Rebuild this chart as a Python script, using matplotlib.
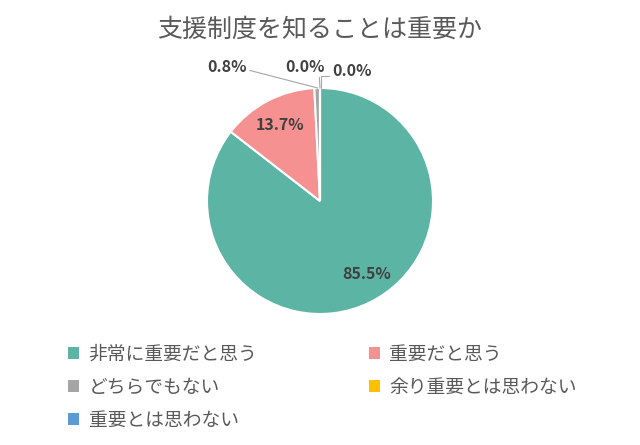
import matplotlib
matplotlib.use("Agg")
import matplotlib.pyplot as plt
from matplotlib.patches import Patch
import numpy as np

plt.rcParams['font.family'] = ['Noto Sans CJK JP', 'DejaVu Sans']

title = "支援制度を知ることは重要か"
categories = ["非常に重要だと思う", "重要だと思う", "どちらでもない", "余り重要とは思わない", "重要とは思わない"]
values = [85.5, 13.7, 0.8, 0.0, 0.0]
labels = ["85.5%", "13.7%", "0.8%", "0.0%", "0.0%"]
colors = ["#5CB4A4", "#F59190", "#A5A5A5", "#FFC000", "#5B9BD5"]

W, H = 640, 445
fig = plt.figure(figsize=(W/100, H/100), dpi=100)
cx, cy, r = 320, 244, 113
ax = fig.add_axes([(cx-r)/W, (cy-r)/H, 2*r/W, 2*r/H])
wedges, _ = ax.pie(values, colors=colors, startangle=90, counterclock=False,
                   wedgeprops=dict(edgecolor='white', linewidth=1.5))
ax.set_xlim(-1, 1); ax.set_ylim(-1, 1)
ax.set_aspect('equal')
ax.axis('off')

lab_col = "#404040"
fs_lab = 11.5
# inside labels for large slices
cum = np.cumsum([0] + values[:-1])
inside_r = {0: 0.72, 1: 0.76}
for i in (0, 1):
    mid = 90 - (cum[i] + values[i] / 2) * 3.6
    rr = inside_r[i]
    x, y = rr*np.cos(np.radians(mid)), rr*np.sin(np.radians(mid))
    if i == 0:
        x += 0.1
    ax.text(x, y, labels[i], ha='center', va='center', fontsize=fs_lab,
            fontweight='bold', color=lab_col)

# outside labels with leader lines
line_kw = dict(arrowstyle='-', color='#A6A6A6', lw=0.8, shrinkA=0, shrinkB=0)
ax.annotate(labels[2], xy=(-0.02, 1.0), xytext=(-0.82, 1.19), ha='center', va='center',
            fontsize=fs_lab, fontweight='bold', color=lab_col,
            arrowprops=dict(**line_kw, relpos=(1.0, 0.3)))
ax.annotate(labels[3], xy=(0.0, 1.0), xytext=(-0.13, 1.19), ha='center', va='center',
            fontsize=fs_lab, fontweight='bold', color=lab_col,
            arrowprops=dict(**line_kw, relpos=(0.85, 0.0)))
ax.annotate(labels[4], xy=(0.01, 1.0), xytext=(0.28, 1.15), ha='center', va='center',
            fontsize=fs_lab, fontweight='bold', color=lab_col,
            arrowprops=dict(arrowstyle='-', color='#A6A6A6', lw=0.8, shrinkA=0, shrinkB=0,
                            relpos=(0.0, 0.2), connectionstyle="angle,angleA=0,angleB=90,rad=0"))

fig.text(0.5, 1 - 30/H, title, ha='center', va='center', fontsize=18, color='#595959')

handles = [Patch(facecolor=c, edgecolor='none') for c in colors]
order = [0, 2, 4, 1, 3]
leg = fig.legend([handles[i] for i in order], [categories[i] for i in order],
                 ncol=2, loc='upper left', bbox_to_anchor=(68/W, 1 - 344/H),
                 frameon=False, fontsize=13.5, labelcolor='#595959',
                 handlelength=0.6, handleheight=0.6, handletextpad=0.5,
                 columnspacing=5.93, labelspacing=0.64, borderaxespad=0, borderpad=0)

fig.savefig("out.png", dpi=100, facecolor='white')
